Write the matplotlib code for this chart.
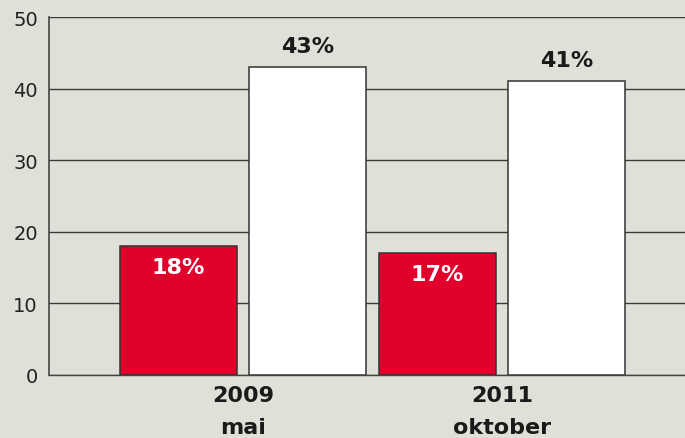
import matplotlib
matplotlib.use("Agg")
import matplotlib.pyplot as plt
import numpy as np

years = ["2009", "2011"]
months = ["mai", "oktober"]
red_values = [18, 17]
white_values = [43, 41]
yticks = [0, 10, 20, 30, 40, 50]

BG = "#E0E0D8"
RED = "#E0002B"
EDGE = "#333333"

fig = plt.figure(figsize=(6.85, 4.39), dpi=100, facecolor=BG)
ax = fig.add_axes([49/685, 1 - 376/439, 1 - 49/685, (376 - 18)/439])
ax.set_facecolor(BG)

x = np.arange(len(years))
w = 0.452
off = 0.249

ax.set_axisbelow(True)
ax.yaxis.grid(True, color="#3a3a3a", linewidth=1.0)
rb = ax.bar(x - off, red_values, w, color=RED, edgecolor=EDGE, linewidth=1.1, zorder=3)
wb = ax.bar(x + off, white_values, w, color="white", edgecolor=EDGE, linewidth=1.1, zorder=3)

for rect, v in zip(rb, red_values):
    ax.annotate(f"{v}%", (rect.get_x() + rect.get_width()/2, v), xytext=(0, -15),
                textcoords="offset points", ha="center", va="center",
                color="white", fontsize=16, fontweight="bold", zorder=4)
for rect, v in zip(wb, white_values):
    ax.annotate(f"{v}%", (rect.get_x() + rect.get_width()/2, v), xytext=(0, 8),
                textcoords="offset points", ha="center", va="bottom",
                color="#1a1a1a", fontsize=16, fontweight="bold", zorder=4)

ax.set_xlim(-0.749, 1.707)
ax.set_ylim(0, 50)
ax.set_yticks(yticks)
ax.set_yticklabels([str(t) for t in yticks], fontsize=14, color="#222222")
ax.tick_params(axis="y", length=0, pad=8)
ax.set_xticks(x)
ax.set_xticklabels([f"{y}\n{m}" for y, m in zip(years, months)], fontsize=16,
                   fontweight="bold", color="#1a1a1a", linespacing=1.75)
ax.tick_params(axis="x", length=0, pad=7)

for s in ["top", "right"]:
    ax.spines[s].set_visible(False)
ax.spines["left"].set_color("#444444")
ax.spines["left"].set_linewidth(1.2)
ax.spines["bottom"].set_color("#444444")
ax.spines["bottom"].set_linewidth(1.0)

fig.savefig("out.png", dpi=100, facecolor=BG)
